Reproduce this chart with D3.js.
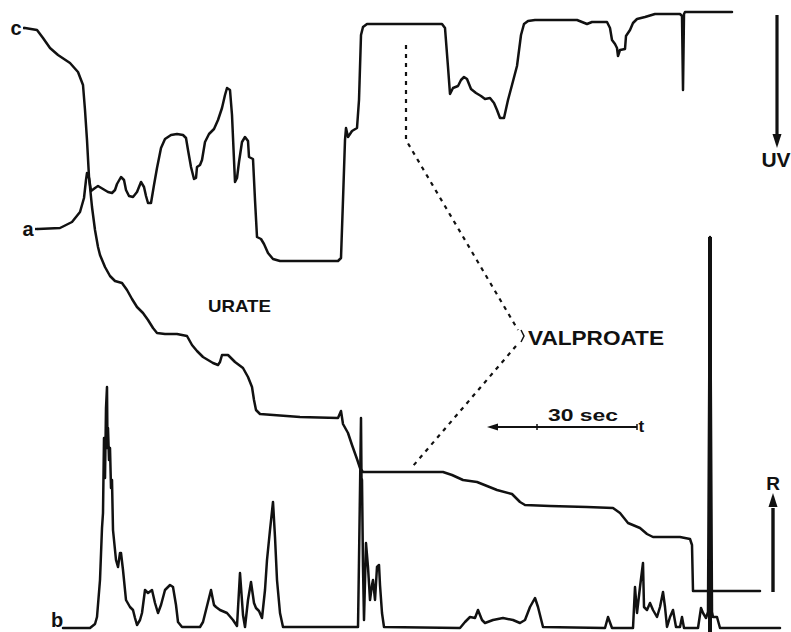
<!DOCTYPE html>
<html>
<head>
<meta charset="utf-8">
<script src="https://cdn.jsdelivr.net/npm/d3@7/dist/d3.min.js"></script>
<style>
  html, body { margin: 0; padding: 0; background: #fff; }
  svg { display: block; }
  text { font-family: "Liberation Sans", Arial, sans-serif; font-weight: bold; fill: #111; }
</style>
</head>
<body>
<svg id="chart" width="791" height="632"></svg>
<script>
// Time in seconds, signal in arbitrary detector units.
// Trace a: UV absorbance (plotted downward = increasing absorbance)
const traceA = [
  [7.6,79.8],[12,80],[14.4,81.2],[16,83.2],[16.8,86],[17.2,89.6],[17.4,91],[17.8,90],[18.2,87.4],
  [19,88],[19.6,88.4],[20.6,87.8],[21.6,87.2],[22.4,87],[23,87.6],[23.4,88.8],[24.2,90.2],[24.8,89.6],
  [25.2,87.6],[25.8,86.4],[26.6,86.2],[27.4,87.2],[28.2,89.2],[28.8,88.2],[29.2,86.4],[29.6,85],
  [30.2,85],[30.8,88.6],[31.4,92],[32.2,96],[33,97.8],[34.2,98.6],[35.4,98.8],[36.6,98.6],[37.2,98],
  [37.6,95.6],[38.2,92.2],[38.8,89.8],[39.2,90],[39.4,92.2],[40,92.6],[40.4,93.6],[41,97.2],[41.8,98.8],
  [42.8,99.8],[43.6,101.6],[44.4,104],[45,106.6],[45.4,108],[46,107.6],[46.4,102.6],[46.8,93.6],
  [47,89.2],[47.4,90],[47.8,93.2],[48.4,97.2],[49,98.2],[49.6,97.4],[49.8,94.2],[50.6,93.8],[51,85.6],
  [51.4,78.2],[52.2,77.8],[52.8,76.8],[53.6,75],[54.6,73.8],[56,73.4],[67.6,73.4],[68.2,74],[68.6,85.6],
  [69,97.6],[69.2,100],[69.6,98.2],[70.4,99.4],[71.4,100],[71.8,105.6],[72.2,118.6],[72.6,120.2],
  [73.4,120.8],[74.4,120.8],[88.4,120.8],[89,120],[89.6,112.2],[90,106.8],[90.6,108],[91.6,108.4],
  [92.2,109.6],[92.8,110.2],[93.4,109.8],[94.2,107.8],[95.2,107],[96.2,106.4],[97,105.8],[98,106],
  [98.8,105],[99.4,103.6],[100,102],[100.8,102],[101.6,105.6],[102.4,108.6],[103.4,112.4],[104.2,118.6],
  [104.8,120.8],[105.6,121.4],[107,121.6],[115.4,121.6],[116.4,121.2],[117.4,120.8],[118.4,121.2],
  [121.4,121.2],[122,120],[122.4,117.6],[123,116.8],[123.4,116],[123.6,114.4],[124,115.6],[125,115.8],
  [125.2,118.4],[126,119.6],[126.6,121],[127.4,121.8],[129,122.2],[131,122.8],[136,122.8],[136.4,122.4],
  [136.6,107.6],[136.8,122.8],[137,123.2],[146.4,123.2]
];

// Trace c: cumulative (integral) record
const traceC = [
  [5,120],[7.4,119.6],[8.6,118],[10,116],[11.6,114.6],[14,113],[15.6,111.2],[16.6,108.6],[17,103.6],
  [17.4,97.6],[17.8,90.2],[18.4,84.2],[19,79.6],[19.6,76.2],[20,74.6],[21,72.2],[22,70.4],[23,69.4],
  [24.4,69],[25.4,67.6],[26.4,65.8],[27.4,64.2],[28.6,63],[29.6,61.6],[30.6,60],[31.4,59],[33,58.8],
  [35.4,58.8],[37.4,58.4],[38.4,56.6],[39.4,55.4],[40.6,54.2],[42.6,53],[43.6,52.6],[44,53.2],[44.4,54.6],
  [45.6,54.6],[46.2,54],[47,53.2],[48.6,52],[49.6,50.2],[50.4,48.2],[50.8,45.6],[51.2,43.6],[52,42.8],
  [60,42.2],[67.6,42],[68.2,43.4],[68.6,40.8],[69.6,39],[70.4,36.6],[71.4,33.8],[72,32],[72.6,31.2],
  [88.6,31.2],[90.4,30.6],[92.6,29.6],[95.4,29.2],[97.4,28.4],[99.4,27.6],[102.4,26.8],[104,25.2],
  [105,24.6],[110,24.4],[117.4,24.2],[122.6,24],[124,23],[125.6,21],[128,20],[129.4,18.8],[130.6,18.2],
  [136,18.2],[138,17.8],[138.4,16.6],[138.6,7.4],[152,7.4]
];

// Trace b: radioactivity detector (R)
const traceB = [
  [12.6,0],[18,0],[19,0.8],[19.4,2.2],[20,9.6],[20.4,20],[20.6,23],[20.8,38],[21,30],[21.2,44],
  [21.4,48.2],[21.5,36],[21.6,40],[21.8,33.6],[22,36],[22.2,28],[22.4,29.6],[22.6,19.6],[23.2,13.6],
  [23.6,12.2],[24,15],[24.2,15],[24.6,11.6],[25.2,5.6],[26,4.2],[26.6,3.6],[27,2],[27.4,0.6],[28,1.6],
  [28.4,3],[29,7.6],[29.6,7],[30.4,7.6],[31,5],[31.6,3],[32.2,4.6],[33,7.6],[34,8.6],[34.6,8.2],
  [35.2,4.6],[35.6,1.2],[36.4,0.2],[40,0.2],[40.6,1.2],[41.2,3.6],[42.2,7.6],[42.8,4.6],[43.2,4.2],
  [44,3.6],[45.4,3],[46.6,1.6],[47.4,0.4],[48,11],[48.6,2.6],[49,0.2],[49.6,5.6],[50.2,9.2],[50.8,5],
  [51.2,4],[51.8,3.4],[52.4,2],[53,7.6],[53.4,13.6],[54,19.6],[54.6,25.2],[55,18.2],[55.4,9.6],[56,3],
  [56.6,0.2],[71.6,0.2],[71.8,13.6],[72,27.6],[72.2,42],[72.3,30],[72.4,29.6],[72.6,12.2],[72.8,1.6],
  [73.2,17],[73.6,12.2],[74,5.6],[74.4,8.6],[74.6,9.6],[75,5.6],[75.4,12.2],[75.8,12.6],[76,8.6],
  [76.4,3],[76.8,0.2],[92,0],[93,1.2],[94,2.2],[95,2],[95.6,3.6],[96.4,1.6],[97,1],[98.6,1.6],[100.6,2],
  [102.6,1.6],[104,1],[105,1.6],[106,4.2],[107,6],[107.6,4.2],[108.6,0.2],[121,0],[121.6,2.2],
  [122.4,0],[126.6,0],[127,8.2],[127.4,3],[128,8.2],[128.6,13],[128.8,4.2],[129.4,3.6],[130,5],
  [130.6,3.6],[131.4,2.2],[132,4.2],[132.6,7.2],[133,4.2],[133.4,0.2],[134,2.2],[134.6,3.6],[135.2,0.2],
  [136,0.2],[136.4,2.2],[136.8,0],[139.6,0],[140.2,4],[140.6,3],[141.2,2],[141.6,3.2],[142,78.2],
  [142.4,3.2],[142.6,2.2],[143.4,2.2],[144,0],[156,0]
];

// Trace labels and annotation texts
const traceLabels = [
  { name: "c", t: 3.2, v: 118.6 },
  { name: "a", t: 5.6, v: 78.4 },
  { name: "b", t: 11.4, v: 0.2 }
];
const peakNames = ["URATE", "VALPROATE"];
const scaleBarSeconds = 30;
const scaleBarLabel = "30 sec";
const detectorLabels = ["UV", "R"];

const svg = d3.select("#chart");
const x = d3.scaleLinear().domain([0, 156]).range([0, 780]);
const y = d3.scaleLinear().domain([0, 126]).range([628, -2]);

const line = d3.line().x(d => x(d[0])).y(d => y(d[1])).curve(d3.curveLinear);

const g = svg.append("g");

// Lead-in strokes from the labels to each trace
g.append("path").attr("d", line([[4.6, 120], [5, 120]]))
  .attr("fill", "none").attr("stroke", "#111").attr("stroke-width", 2.4);
g.append("path").attr("d", line([[7, 79.8], [7.6, 79.8]]))
  .attr("fill", "none").attr("stroke", "#111").attr("stroke-width", 2.4);

[traceA, traceC, traceB].forEach(tr => {
  g.append("path")
    .attr("d", line(tr))
    .attr("fill", "none")
    .attr("stroke", "#111")
    .attr("stroke-width", 2.5)
    .attr("stroke-linejoin", "round")
    .attr("stroke-linecap", "round");
});

// The off-scale R peak, drawn heavy and running below the baseline to the page edge
g.append("line")
  .attr("x1", x(142)).attr("x2", x(142))
  .attr("y1", y(78.2)).attr("y2", y(-1.2))
  .attr("stroke", "#111").attr("stroke-width", 4);

// Trace labels
traceLabels.forEach(l => {
  g.append("text")
    .attr("x", x(l.t)).attr("y", y(l.v))
    .attr("text-anchor", "middle")
    .attr("font-size", 20)
    .text(l.name);
});

// Dotted pointers for valproate
const valproatePointers = [
  [[81.2, 116.6], [81.2, 97.6], [103.6, 59.6]],
  [[103.2, 56.4], [82.6, 32.4]]
];
valproatePointers.forEach(p => {
  g.append("path").attr("d", line(p))
    .attr("fill", "none").attr("stroke", "#111")
    .attr("stroke-width", 2.2).attr("stroke-dasharray", "4,5");
});
g.append("path")
  .attr("d", line([[104.2, 59.6], [104.8, 58.4], [104.2, 57.2]]))
  .attr("fill", "none").attr("stroke", "#111").attr("stroke-width", 1.5);

// Peak names
g.append("text")
  .attr("x", x(41.6)).attr("y", y(63.2))
  .attr("font-size", 17).attr("textLength", 63).attr("lengthAdjust", "spacingAndGlyphs")
  .text(peakNames[0]);
g.append("text")
  .attr("x", x(105.6)).attr("y", y(56.6))
  .attr("font-size", 20).attr("textLength", 136).attr("lengthAdjust", "spacingAndGlyphs")
  .text(peakNames[1]);

// Time scale bar: 30 s
const barT0 = 97.4, barT1 = barT0 + scaleBarSeconds, barV = 40.2;
g.append("line")
  .attr("x1", x(barT0) + 6).attr("x2", x(barT1))
  .attr("y1", y(barV)).attr("y2", y(barV))
  .attr("stroke", "#111").attr("stroke-width", 2.2);
g.append("path")
  .attr("d", `M${x(barT0)},${y(barV)} l11,-3.5 l0,7 z`)
  .attr("fill", "#111");
[barT0 + 10, barT1].forEach(t => {
  g.append("line")
    .attr("x1", x(t)).attr("x2", x(t))
    .attr("y1", y(barV) - 3).attr("y2", y(barV) + 3)
    .attr("stroke", "#111").attr("stroke-width", 1.5);
});
g.append("text")
  .attr("x", x(barT0 + 12.2)).attr("y", y(barV + 1.2))
  .attr("font-size", 17).attr("textLength", 70).attr("lengthAdjust", "spacingAndGlyphs")
  .text(scaleBarLabel);
g.append("text")
  .attr("x", x(barT1 + 0.3)).attr("y", y(barV - 1))
  .attr("font-size", 17)
  .text("t");

// Detector direction arrows
const uvT = 155.4;
g.append("line")
  .attr("x1", x(uvT)).attr("x2", x(uvT))
  .attr("y1", y(122.6)).attr("y2", y(98))
  .attr("stroke", "#111").attr("stroke-width", 3.2);
g.append("path")
  .attr("d", `M${x(uvT)},${y(96)} l-4.5,-14 l9,0 z`).attr("fill", "#111");
g.append("text")
  .attr("x", x(uvT) - 1).attr("y", y(92.2))
  .attr("text-anchor", "middle").attr("font-size", 21)
  .text(detectorLabels[0]);

const rT = 154.6;
g.append("line")
  .attr("x1", x(rT)).attr("x2", x(rT))
  .attr("y1", y(7.2)).attr("y2", y(24))
  .attr("stroke", "#111").attr("stroke-width", 3.4);
g.append("path")
  .attr("d", `M${x(rT)},${y(27)} l-4.5,14 l9,0 z`).attr("fill", "#111");
g.append("text")
  .attr("x", x(rT)).attr("y", y(27.6))
  .attr("text-anchor", "middle").attr("font-size", 19)
  .text(detectorLabels[1]);
</script>
</body>
</html>
